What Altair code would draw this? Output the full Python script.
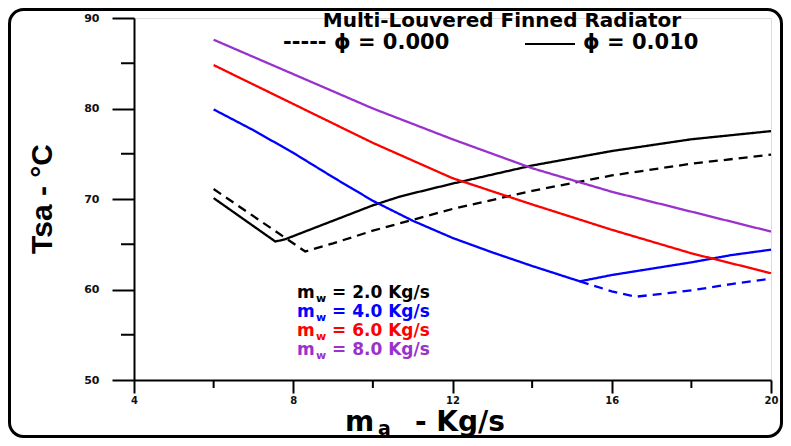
import altair as alt
import pandas as pd

# ---- data ----
ma_k_solid = [6, 7.55, 7.8, 8, 9, 10, 10.7, 12, 14, 16, 18, 20]
t_k_solid = [70.1, 65.3, 65.55, 65.9, 67.6, 69.3, 70.3, 71.7, 73.7, 75.3, 76.6, 77.5]
ma_k_dash = [6, 8.3, 9, 10, 11, 12, 14, 16, 18, 20]
t_k_dash = [71.1, 64.2, 65.1, 66.5, 67.7, 68.9, 70.9, 72.6, 73.9, 74.9]
ma_b_solid = [6, 7, 8, 9, 10, 11, 12, 13, 14, 15.2, 16, 17, 18, 19, 20]
t_b_solid = [79.9, 77.6, 75.1, 72.4, 69.8, 67.6, 65.7, 64.1, 62.6, 60.9, 61.6, 62.3, 63.0, 63.8, 64.4]
ma_b_dash = [15.2, 16, 16.6, 17, 18, 19, 20]
t_b_dash = [60.9, 59.8, 59.2, 59.4, 59.9, 60.6, 61.2]
ma_r = [6, 8, 10, 12, 14, 16, 18, 20]
t_r = [84.8, 80.5, 76.2, 72.3, 69.4, 66.6, 64.0, 61.8]
ma_p = [6, 8, 10, 12, 14, 16, 18, 20]
t_p = [87.6, 83.8, 80.0, 76.6, 73.4, 70.8, 68.6, 66.4]

mw_levels = ["2.0", "4.0", "6.0", "8.0"]
mw_colors = ["#000000", "#0000FF", "#FF0000", "#9932CC"]
phi_levels = ["0.000", "0.010"]
x_ticks = [4, 8, 12, 16, 20]
x_minor = [6, 10, 14, 18]
y_ticks = [50, 60, 70, 80, 90]
y_minor = [55, 65, 75, 85]

title_text = "Multi-Louvered Finned Radiator"
phi_text0 = "----- ϕ = 0.000"
phi_text1 = "ϕ = 0.010"
ytitle = "Tsa - °C"

series = [
    ("2.0", "0.010", ma_k_solid, t_k_solid),
    ("2.0", "0.000", ma_k_dash, t_k_dash),
    ("4.0", "0.010", ma_b_solid, t_b_solid),
    ("4.0", "0.000", ma_b_dash, t_b_dash),
    ("6.0", "0.010", ma_r, t_r),
    ("8.0", "0.010", ma_p, t_p),
]
rows = []
for mw, phi, xs, ys in series:
    for i, (a, b) in enumerate(zip(xs, ys)):
        rows.append({"ma": a, "T": b, "mw": mw, "phi": phi, "key": mw + "_" + phi, "i": i})
df = pd.DataFrame(rows)

FONT = "DejaVu Sans"
xscale = alt.Scale(domain=[4, 20], nice=False, zero=False)
yscale = alt.Scale(domain=[50, 90], nice=False, zero=False)
xaxis = alt.Axis(values=x_ticks, format="d", title=None, grid=False, tickSize=13, tickWidth=2,
                 domainWidth=2, domainColor="black", tickColor="black", labelColor="#111111",
                 labelFont=FONT, labelFontWeight="bold", labelFontSize=10, labelPadding=2,
                 labelFlush=False)
yaxis = alt.Axis(values=y_ticks, format="d", title=None, grid=False, tickSize=22, tickWidth=2,
                 domainWidth=2, domainColor="black", tickColor="black", labelColor="#111111",
                 labelFont=FONT, labelFontWeight="bold", labelFontSize=11, labelPadding=13,
                 labelFlush=False)

lines = alt.Chart(df).mark_line(strokeWidth=2.3).encode(
    x=alt.X("ma:Q", scale=xscale, axis=xaxis),
    y=alt.Y("T:Q", scale=yscale, axis=yaxis),
    color=alt.Color("mw:N", scale=alt.Scale(domain=mw_levels, range=mw_colors), legend=None),
    strokeDash=alt.StrokeDash("phi:N", scale=alt.Scale(domain=phi_levels, range=[[9, 6], [1, 0]]), legend=None),
    detail="key:N",
    order=alt.Order("i:Q"),
)

minor_y = alt.Chart(pd.DataFrame({"T": y_minor})).mark_rule(color="black", strokeWidth=2).encode(
    y=alt.Y("T:Q", scale=yscale, axis=yaxis), x=alt.value(-13), x2=alt.value(0))
minor_x = alt.Chart(pd.DataFrame({"ma": x_minor})).mark_rule(color="black", strokeWidth=2).encode(
    x=alt.X("ma:Q", scale=xscale, axis=xaxis), y=alt.value(362), y2=alt.value(370))

one = pd.DataFrame({"z": [0]})


def txt(s, x, y, size, color="black", weight="bold", align="left", angle=0, baseline="alphabetic", font=FONT):
    return alt.Chart(one).mark_text(text=s, fontSize=size, font=font, fontWeight=weight, color=color,
                                    align=align, baseline=baseline, angle=angle).encode(
        x=alt.value(x), y=alt.value(y))


layers = [lines, minor_y, minor_x]

# figure border
border = alt.Chart(one).mark_rect(filled=False, stroke="black", strokeWidth=3, cornerRadius=14).encode(
    x=alt.value(-124.5), x2=alt.value(647.5), y=alt.value(-8.5), y2=alt.value(418.5))
layers.append(border)

# header
layers.append(txt(title_text, 368, 9, 20, align="center"))
layers.append(txt(phi_text0, 149, 31, 21))
layers.append(alt.Chart(one).mark_rule(color="black", strokeWidth=2).encode(
    x=alt.value(391), x2=alt.value(441), y=alt.value(26)))
layers.append(txt(phi_text1, 449, 31, 21))

# m_w legend
for k, (lev, col) in enumerate(zip(mw_levels, mw_colors)):
    yb = 280 + 19 * k
    layers.append(txt("m", 163, yb, 17, col))
    layers.append(txt("w", 182, yb + 4, 11, col))
    layers.append(txt("= " + lev + " Kg/s", 198, yb, 17, col))

# axis titles
layers.append(txt(ytitle, -91, 199 - 18, 30, angle=270, align="center", baseline="middle",
                  font="Liberation Sans Narrow, Liberation Sans"))
layers.append(txt("m", 211, 413, 28))
layers.append(txt("a", 244, 417, 19))
layers.append(txt("- Kg/s", 281, 413, 28))

chart = alt.layer(*layers).properties(
    width=637, height=362,
    autosize=alt.AutoSizeParams(type="none"),
    padding={"left": 126, "top": 10, "right": 12, "bottom": 58},
).configure_view(stroke=None).configure(background="white")

chart.save("out.html", embed_options={"renderer": "svg", "actions": False})
